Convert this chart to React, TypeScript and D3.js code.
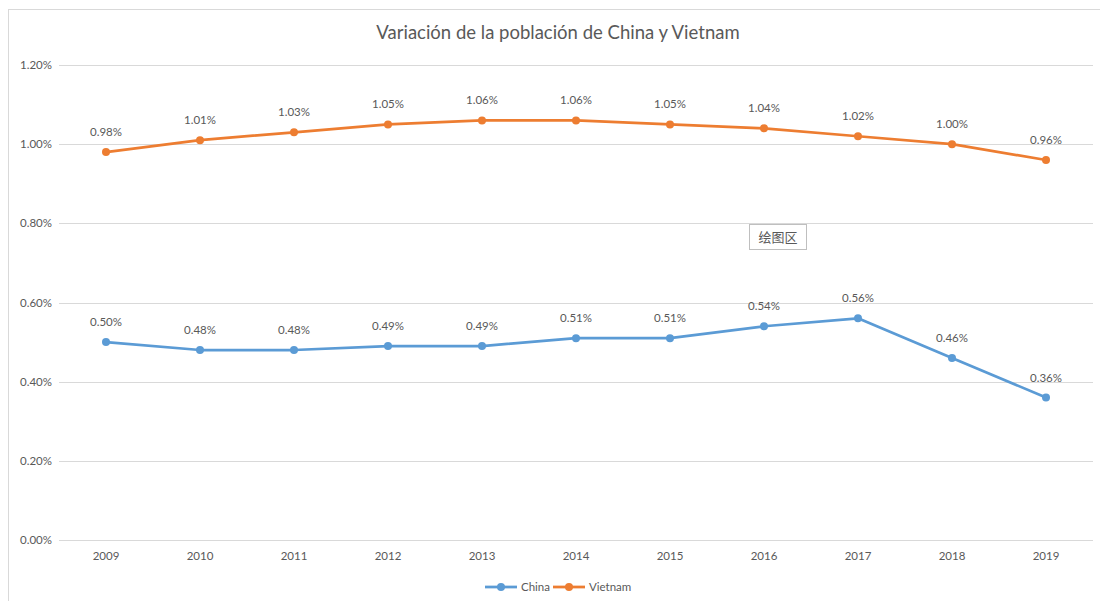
import React from 'react';
import * as d3 from 'd3';

const years = ['2009', '2010', '2011', '2012', '2013', '2014', '2015', '2016', '2017', '2018', '2019'];
const china = [0.5, 0.48, 0.48, 0.49, 0.49, 0.51, 0.51, 0.54, 0.56, 0.46, 0.36];
const vietnam = [0.98, 1.01, 1.03, 1.05, 1.06, 1.06, 1.05, 1.04, 1.02, 1.0, 0.96];
const yTicks = [0, 0.2, 0.4, 0.6, 0.8, 1.0, 1.2];

const series = [
  { name: 'China', values: china, color: '#5B9BD5' },
  { name: 'Vietnam', values: vietnam, color: '#ED7D31' },
];

const W = 1100;
const H = 601;
const font = 'Lato, "Open Sans", sans-serif';
const textColor = '#595959';

export default function App() {
  const left = 59;
  const right = 1093;
  const top = 65;
  const bottom = 540;

  const x = d3.scaleBand<string>().domain(years).range([left, right]);
  const y = d3.scaleLinear().domain([0, 1.2]).range([bottom, top]);
  const cx = (i: number) => (x(years[i]) ?? 0) + x.bandwidth() / 2;
  const line = d3.line<number>().x((d, i) => cx(i)).y(d => y(d));
  const fmt = (v: number) => v.toFixed(2) + '%';

  return (
    <svg width={W} height={H} style={{ position: 'absolute', left: 0, top: 0, background: '#fff' }} fontFamily={font}>
      <rect x={8.5} y={9.5} width={W} height={H} fill="#fff" stroke="#d9d9d9" />
      <text x={558} y={39} textAnchor="middle" fontSize={18.5} fill={textColor}>
        Variación de la población de China y Vietnam
      </text>

      <g>
        {yTicks.map(t => (
          <g key={t}>
            <line x1={left} x2={right} y1={Math.round(y(t)) + 0.5} y2={Math.round(y(t)) + 0.5} stroke="#d9d9d9" />
            <text x={52} y={y(t) + 4} textAnchor="end" fontSize={11.5} fill={textColor}>{fmt(t)}</text>
          </g>
        ))}
        {years.map((yr, i) => (
          <text key={yr} x={cx(i)} y={560} textAnchor="middle" fontSize={11.5} fill={textColor}>{yr}</text>
        ))}
      </g>

      {series.map(s => (
        <g key={s.name}>
          <path d={line(s.values) ?? ''} fill="none" stroke={s.color} strokeWidth={2.75} strokeLinejoin="round" />
          {s.values.map((v, i) => (
            <circle key={i} cx={cx(i)} cy={y(v)} r={4} fill={s.color} />
          ))}
          {s.values.map((v, i) => (
            <text key={'l' + i} x={cx(i)} y={y(v) - 16} textAnchor="middle" fontSize={11.5} fill={textColor}>{fmt(v)}</text>
          ))}
        </g>
      ))}

      <g>
        <rect x={749.5} y={224.5} width={57} height={25} fill="#fff" stroke="#bfbfbf" />
        <text x={778} y={242} textAnchor="middle" fontSize={13} fill={textColor} fontFamily='"Noto Sans CJK SC", sans-serif'>绘图区</text>
      </g>

      <g fontSize={11.5} fill={textColor}>
        {series.map((s, i) => {
          const lx = 485 + i * 68;
          return (
            <g key={s.name}>
              <line x1={lx} x2={lx + 32} y1={587} y2={587} stroke={s.color} strokeWidth={2.75} />
              <circle cx={lx + 16} cy={587} r={4} fill={s.color} />
              <text x={lx + 36} y={591}>{s.name}</text>
            </g>
          );
        })}
      </g>
    </svg>
  );
}
